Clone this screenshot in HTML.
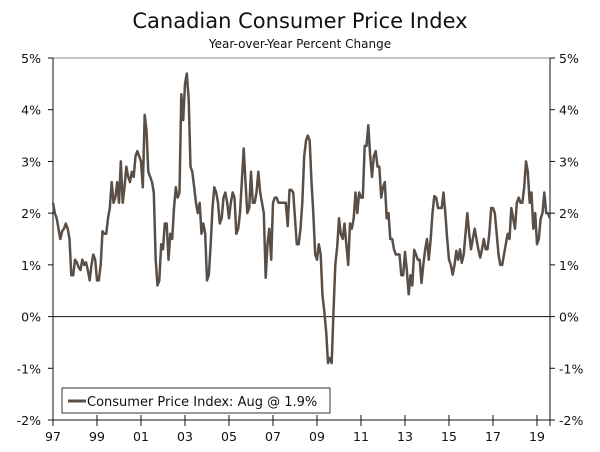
<!DOCTYPE html>
<html><head><meta charset="utf-8"><style>
html,body{margin:0;padding:0;background:#fff;}
svg text{font-family:"DejaVu Sans","Liberation Sans",sans-serif;fill:#111;}
</style></head><body>
<svg width="600" height="447" viewBox="0 0 600 447" xmlns="http://www.w3.org/2000/svg">
<text x="300" y="28" text-anchor="middle" font-size="21">Canadian Consumer Price Index</text>
<text x="300" y="48" text-anchor="middle" font-size="12">Year-over-Year Percent Change</text>
<g id="axes"></g>
<g id="series"></g>
<g>
<rect x="62" y="388" width="268" height="25" fill="#fff" stroke="#333" stroke-width="1"/>
<line x1="68" y1="401" x2="86" y2="401" stroke="#5a4f47" stroke-width="3"/>
<text x="87" y="406" font-size="13">Consumer Price Index: Aug @ 1.9%</text>
</g>
</svg>
<script>
const yearLabels=["97","99","01","03","05","07","09","11","13","15","17","19"];
const yTicks=[5,4,3,2,1,0,-1,-2];
const cpi=[
2.2,2.0,1.9,1.7,1.5,1.65,1.7,1.8,1.7,1.5,0.8,0.8,
1.1,1.05,0.95,0.9,1.1,1.0,1.05,0.9,0.7,1.0,1.2,1.1,
0.7,0.7,1.0,1.65,1.6,1.6,1.9,2.1,2.6,2.2,2.3,2.6,
2.2,3.0,2.2,2.5,2.9,2.7,2.6,2.8,2.7,3.1,3.2,3.1,
3.0,2.5,3.9,3.6,2.8,2.7,2.6,2.4,1.1,0.6,0.7,1.4,
1.3,1.8,1.8,1.1,1.6,1.5,2.1,2.5,2.3,2.4,4.3,3.8,
4.5,4.7,4.2,2.9,2.8,2.5,2.2,2.0,2.2,1.6,1.8,1.6,
0.7,0.8,1.4,2.1,2.5,2.4,2.2,1.8,1.9,2.3,2.4,2.2,
1.9,2.2,2.4,2.3,1.6,1.7,2.0,2.6,3.25,2.6,2.0,2.1,
2.8,2.2,2.2,2.4,2.8,2.4,2.2,2.0,0.75,1.4,1.7,1.1,
2.2,2.3,2.3,2.2,2.2,2.2,2.2,2.2,1.75,2.45,2.45,2.4,
1.9,1.4,1.4,1.7,2.2,3.1,3.4,3.5,3.4,2.6,2.0,1.2,
1.1,1.4,1.2,0.4,0.1,-0.3,-0.9,-0.8,-0.9,0.1,1.0,1.35,
1.9,1.6,1.5,1.8,1.4,1.0,1.8,1.7,1.9,2.4,2.0,2.4,
2.3,2.3,3.3,3.3,3.7,3.1,2.7,3.1,3.2,2.9,2.9,2.3,
2.5,2.6,1.9,2.0,1.5,1.5,1.3,1.2,1.2,1.2,0.8,0.8,
1.25,0.9,0.43,0.8,0.6,1.29,1.2,1.1,1.1,0.65,1.0,1.3,
1.5,1.1,1.5,2.0,2.33,2.3,2.1,2.1,2.1,2.4,2.0,1.5,
1.1,1.0,0.81,1.0,1.27,1.1,1.3,1.04,1.2,1.6,2.0,1.6,
1.3,1.5,1.7,1.5,1.3,1.14,1.3,1.5,1.3,1.3,1.6,2.1,
2.1,2.0,1.6,1.2,1.0,1.0,1.2,1.4,1.6,1.5,2.1,1.9,
1.7,2.2,2.3,2.2,2.2,2.5,3.0,2.8,2.2,2.4,1.7,2.0,
1.4,1.5,1.9,2.0,2.4,2.0,2.0,1.9
];
const L=53,R=550,T=58,B=420,x0=53,pxYear=22;
const ns="http://www.w3.org/2000/svg";
function y(v){return T+(5-v)*(B-T)/7;}
function x(m){return x0+m*pxYear/12;}
function mk(tag,attrs,parent){const e=document.createElementNS(ns,tag);for(const k in attrs)e.setAttribute(k,attrs[k]);parent.appendChild(e);return e;}
const ax=document.getElementById('axes');
let e=mk('line',{x1:L,y1:T,x2:R,y2:T,stroke:'#888','stroke-width':1},ax);


e=mk('line',{x1:L,y1:T,x2:L,y2:B+6,stroke:'#111','stroke-width':1},ax);


e=mk('line',{x1:R,y1:T,x2:R,y2:B+6,stroke:'#111','stroke-width':1},ax);


e=mk('line',{x1:L-5,y1:B,x2:R+4,y2:B,stroke:'#111','stroke-width':1},ax);


e=mk('line',{x1:L,y1:y(0),x2:R,y2:y(0),stroke:'#111','stroke-width':1},ax);


yTicks.forEach(v=>{
  mk('line',{x1:L-5,y1:y(v),x2:L,y2:y(v),stroke:'#111'},ax);
  mk('line',{x1:R,y1:y(v),x2:R+5,y2:y(v),stroke:'#111'},ax);
  let t=mk('text',{x:L-12,y:y(v)+5,'text-anchor':'end','font-size':12.5},ax);t.textContent=v+'%';
  
  
  t=mk('text',{x:R+9,y:y(v)+5,'font-size':12.5},ax);t.textContent=v+'%';
  
  
});
yearLabels.forEach((lab,i)=>{
  const xx=x(i*24);
  mk('line',{x1:xx,y1:B-5,x2:xx,y2:B+6,stroke:'#111'},ax);
  const t=mk('text',{x:xx,y:B+21,'text-anchor':'middle','font-size':12.5},ax);t.textContent=lab;
  
  
});
const pts=cpi.map((v,i)=>x(i).toFixed(1)+','+y(v).toFixed(1)).join(' ');
const pl=mk('polyline',{points:pts,fill:'none',stroke:'#5a4f47','stroke-width':2.5,'stroke-linejoin':'round'},document.getElementById('series'));


</script>
</body></html>
